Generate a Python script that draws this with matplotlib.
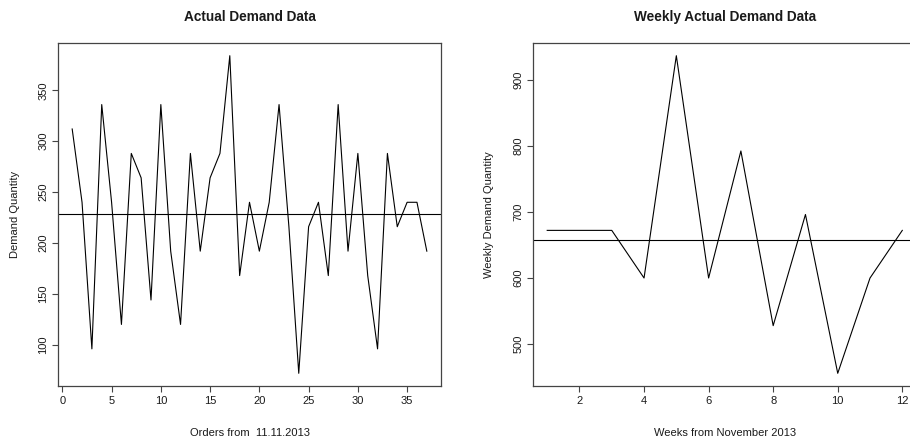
import numpy as np
import matplotlib
matplotlib.use('Agg')
import matplotlib.pyplot as plt

# Daily order quantities starting 11.11.2013
orders = list(range(1, 38))
demand = [312, 240, 96, 336, 240, 120, 288, 264, 144, 336,
          192, 120, 288, 192, 264, 288, 384, 168, 240, 192,
          240, 336, 216, 72, 216, 240, 168, 336, 192, 288,
          168, 96, 288, 216, 240, 240, 192]

# Weekly totals from November 2013
weeks = list(range(1, 13))
weekly_demand = [672, 672, 672, 600, 936, 600, 792, 528, 696, 456, 600, 672]

plt.rcParams['font.family'] = ['Liberation Sans', 'DejaVu Sans']
text_col = '#1a1a1a'
box_col = '#444444'


def pad_range(vals, frac=0.04):
    lo, hi = min(vals), max(vals)
    d = (hi - lo) * frac
    return lo - d, hi + d


def style_axes(ax):
    for s in ax.spines.values():
        s.set_color(box_col)
        s.set_linewidth(0.9)
    ax.tick_params(direction='out', length=4, width=0.8, color=box_col,
                   labelsize=8, labelcolor=text_col, pad=3)
    for lab in ax.get_yticklabels():
        lab.set_rotation(90)
        lab.set_va('center')


fig = plt.figure(figsize=(9.1, 4.42), dpi=100)

# Left panel: daily demand with mean line
ax1 = fig.add_axes([58 / 910, 56 / 442, 383 / 910, 343 / 442])
ax1.plot(orders, demand, color='black', linewidth=0.8)
ax1.axhline(np.mean(demand), color='black', linewidth=0.8)
ax1.set_xlim(*pad_range(orders))
ax1.set_ylim(*pad_range(demand))
ax1.set_xticks([0, 5, 10, 15, 20, 25, 30, 35])
ax1.set_yticks([100, 150, 200, 250, 300, 350])
style_axes(ax1)
ax1.set_title('Actual Demand Data', fontsize=9.8, fontweight='bold',
              color=text_col, pad=16)
ax1.set_xlabel('Orders from  11.11.2013', fontsize=8, color=text_col)
ax1.set_ylabel('Demand Quantity', fontsize=8, color=text_col)
ax1.xaxis.set_label_coords(0.5, -0.122)
ax1.yaxis.set_label_coords(-0.099, 0.5)

# Right panel: weekly demand with mean line
ax2 = fig.add_axes([533 / 910, 56 / 442, 383.5 / 910, 343 / 442])
ax2.plot(weeks, weekly_demand, color='black', linewidth=0.8)
ax2.axhline(np.mean(weekly_demand), color='black', linewidth=0.8)
ax2.set_xlim(*pad_range(weeks))
ax2.set_ylim(*pad_range(weekly_demand))
ax2.set_xticks([2, 4, 6, 8, 10, 12])
ax2.set_yticks([500, 600, 700, 800, 900])
style_axes(ax2)
ax2.set_title('Weekly Actual Demand Data', fontsize=9.8, fontweight='bold',
              color=text_col, pad=16)
ax2.set_xlabel('Weeks from November 2013', fontsize=8, color=text_col)
ax2.set_ylabel('Weekly Demand Quantity', fontsize=8, color=text_col)
ax2.xaxis.set_label_coords(0.5, -0.122)
ax2.yaxis.set_label_coords(-0.102, 0.5)

fig.savefig('out.png', dpi=100)
